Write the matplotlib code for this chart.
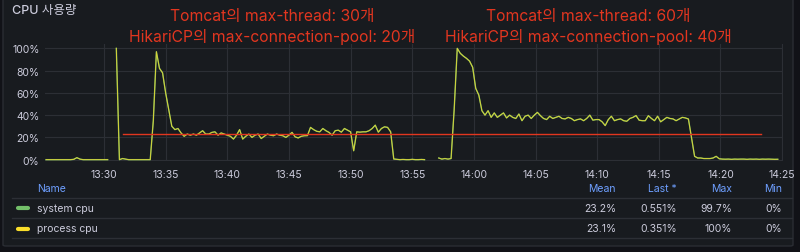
import numpy as np
import matplotlib
matplotlib.use("Agg")
import matplotlib.pyplot as plt
from matplotlib.lines import Line2D
from matplotlib.patches import FancyBboxPatch

plt.rcParams['font.family'] = ['Inter', 'Noto Sans CJK KR', 'DejaVu Sans']

# time axis: minutes after 13:00, samples every 15 s
step = 0.25
seg1_start = 25.3
seg1 = [0, 0, 0, 0, 0, 0, 0, 0, 0, 0.3, 1.8, 0.5, 0, 0, 0, 0, 0, 0, 0, 0, 0]

seg2_start = 31.0
seg2 = [100, 0, 1, 0.5, 0, 0, 0, 0, 0, 0, 0, 0, 35, 97, 82, 78, 60, 45, 30, 27,
        28, 24, 21, 23, 22, 23, 22, 24, 26, 23, 23, 24.5, 25, 22, 24, 23, 22, 21, 18.5, 22,
        27, 18.5, 21, 23, 20, 22, 23, 19, 21, 23, 22, 21.5, 23, 22, 21.5, 20, 22, 24.5, 20.5, 19.5,
        21, 21.5, 21.6, 29, 27, 25.5, 25, 28, 26, 24.5, 22, 26, 26.5, 24.7, 28, 26.5, 25, 8, 25, 24.7,
        25, 25, 26, 28, 31, 24.7, 28, 29.5, 29, 25, 0.6, 0.3, 0, 0.2, 0, 0, 0.3, 0, 0, 0.2, 0]

seg3_start = 57.15
seg3 = [1.5, 0.5, 1, 0.5, 1, 45, 100, 95.5, 93, 91, 88.5, 83, 64, 58, 44, 40, 44, 38, 42, 38,
        40, 42, 37.5, 40, 38, 37, 41, 35, 39, 40, 37, 40, 42.5, 39.5, 37, 36, 39, 37, 38, 39,
        37, 36.6, 38, 37, 35, 36, 36.6, 35, 37, 40, 35.5, 36, 36, 34, 30.6, 36, 39, 35, 36, 36.6,
        35, 34.5, 37, 38, 39.6, 35.5, 35, 35, 39.5, 37, 35, 39, 34, 36, 38, 37, 36.6, 35, 36.5, 38,
        37.5, 36.5, 20, 3, 1.5, 1.5, 1, 1, 1, 1.5, 3, 0.8, 0.5, 0.4, 0.5, 0.3, 0.5, 0.4, 0.5, 0.5,
        0.3, 0.5, 0.4, 0.5, 0.3, 0.5, 0.4, 0.5, 0.4, 0.3, 0.35]

# hand drawn reference line (mean)
ref_level = 23.2
ref_start = 31.55
ref_end = 83.3

tick_pos = [30, 35, 40, 45, 50, 55, 60, 65, 70, 75, 80, 85]
tick_labels = ['13:30', '13:35', '13:40', '13:45', '13:50', '13:55',
               '14:00', '14:05', '14:10', '14:15', '14:20', '14:25']
y_ticks = [0, 20, 40, 60, 80, 100]

legend_names = ['system cpu', 'process cpu']
legend_colors = ['#73BF69', '#FADE2A']
stat_headers = ['Mean', 'Last *', 'Max', 'Min']
stat_values = [['23.2%', '0.551%', '99.7%', '0%'],
               ['23.1%', '0.351%', '100%', '0%']]

note_left = ['Tomcat의 max-thread: 30개', 'HikariCP의 max-connection-pool: 20개']
note_right = ['Tomcat의 max-thread: 60개', 'HikariCP의 max-connection-pool: 40개']

# join the segments with gaps
times, values = [], []
for start, seg in [(seg1_start, seg1), (seg2_start, seg2), (seg3_start, seg3)]:
    times += list(start + step * np.arange(len(seg))) + [np.nan]
    values += list(seg) + [np.nan]
times = np.array(times)
values = np.array(values)

W, H = 800, 253
def px(x, y):
    return x / W, 1 - y / H

bg = '#181b1f'
txt = '#ccccdc'
red = '#e2361f'

fig = plt.figure(figsize=(8, 2.53), dpi=100, facecolor='#111217')
fig.add_artist(FancyBboxPatch((3 / W, 1 - 247 / H), 790 / W, 252 / H,
                              boxstyle='round,pad=0,rounding_size=0.004',
                              transform=fig.transFigure, facecolor=bg,
                              edgecolor='#2a2d33', lw=1, zorder=-5))

ax = fig.add_axes([45 / W, 1 - 162 / H, 738 / W, 117 / H])
ax.patch.set_alpha(0)

ax.plot(times, values, color=legend_colors[0], lw=1.0, alpha=0.9)
ax.plot(times, values, color=legend_colors[1], lw=0.7, alpha=0.75)
ax.plot([ref_start, ref_end], [ref_level, ref_level], color=red, lw=1.0)

ax.set_xlim(25.215, 85.07)
ax.set_ylim(-1.2, 103.9)
ax.set_xticks(tick_pos)
ax.set_xticklabels(tick_labels)
ax.set_yticks(y_ticks)
ax.set_yticklabels([f'{v}%' for v in y_ticks])
ax.tick_params(colors=txt, labelsize=7.5, length=0, pad=4)
ax.tick_params(axis='x', pad=6)
ax.grid(True, color='#2c2f35', lw=0.8)
ax.set_axisbelow(True)
for s in ax.spines.values():
    s.set_visible(False)

fig.text(*px(12, 11), 'CPU 사용량', color=txt, fontsize=9, fontweight='medium',
         ha='left', va='center')

for i, line in enumerate(note_left):
    fig.text(*px(272, 17 + 20 * i), line, color=red, fontsize=11.3, ha='center', va='center')
for i, line in enumerate(note_right):
    fig.text(*px(588, 17 + 20 * i), line, color=red, fontsize=11.3, ha='center', va='center')

# legend table
col_right = [616, 677, 732, 782]
fig.text(*px(37, 189), 'Name', color='#6e9fff', fontsize=7.5, ha='left', va='center')
for x, h in zip(col_right, stat_headers):
    fig.text(*px(x, 189), h, color='#6e9fff', fontsize=7.5, ha='right', va='center')
for y in [199, 219, 239]:
    fig.add_artist(Line2D([12 / W, 792 / W], [1 - y / H] * 2, transform=fig.transFigure,
                          color='#2c2f35', lw=1))
for r, (name, c, vals) in enumerate(zip(legend_names, legend_colors, stat_values)):
    y = 209 + 20.5 * r
    fig.add_artist(Line2D([18 / W, 28 / W], [1 - y / H] * 2, transform=fig.transFigure,
                          color=c, lw=3, solid_capstyle='round'))
    fig.text(*px(37, y), name, color=txt, fontsize=7.5, ha='left', va='center')
    for x, v in zip(col_right, vals):
        fig.text(*px(x, y), v, color=txt, fontsize=7.5, ha='right', va='center')

fig.savefig('out.png', dpi=100, facecolor=fig.get_facecolor())
